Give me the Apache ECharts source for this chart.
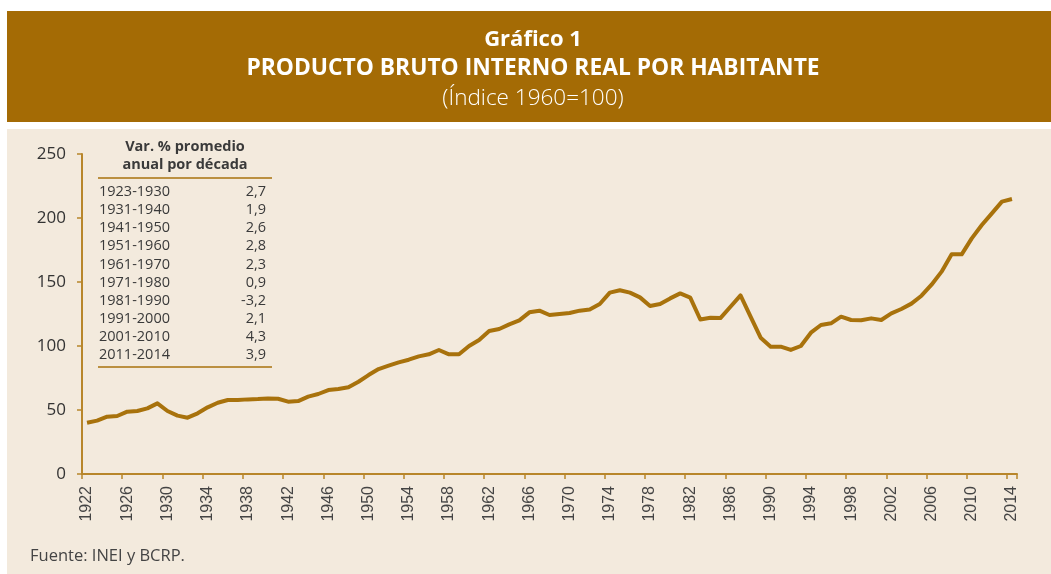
<!DOCTYPE html>
<html>
<head>
<meta charset="utf-8">
<script src="https://cdn.jsdelivr.net/npm/echarts@6/dist/echarts.min.js"></script>
<style>
  html, body { margin: 0; padding: 0; background: #fff; }
  #main { width: 1051px; height: 574px; }
</style>
</head>
<body>
<div id="main"></div>
<script>
// años 1922-2014
var years = [];
for (var y = 1922; y <= 2014; y++) {
    years.push(String(y));
}

// PBI real por habitante (índice 1960=100)
var pbi = [
    40.1, 41.7, 44.8, 45.3, 48.7, 49.2, 51.3, 55.2, 49.2, 45.6,   // 1922-1931
    44.0, 47.4, 52.1, 55.7, 57.8, 57.9, 58.3, 58.5, 59.0, 58.8,   // 1932-1941
    56.5, 57.0, 60.4, 62.5, 65.6, 66.4, 67.7, 72.1, 77.3, 82.0,   // 1942-1951
    84.6, 87.2, 89.3, 91.9, 93.5, 96.9, 93.5, 93.5, 100.0, 104.7, // 1952-1961
    111.7, 113.3, 116.9, 120.0, 126.3, 127.6, 124.2, 125.0, 125.8, 127.6, // 1962-1971
    128.6, 132.8, 141.7, 143.5, 141.7, 138.0, 131.3, 132.8, 137.2, 141.1, // 1972-1981
    137.8, 120.7, 122.0, 121.8, 130.7, 139.5, 122.9, 106.5, 99.5, 99.5,   // 1982-1991
    96.9, 100.0, 110.4, 116.4, 117.7, 122.9, 120.3, 120.1, 121.6, 120.3,  // 1992-2001
    125.5, 128.9, 133.1, 139.3, 147.9, 158.1, 171.6, 171.6, 184.1, 194.5, // 2002-2011
    203.6, 212.8, 214.8                                                   // 2012-2014
];

// tabla: var. % promedio anual por década
var periodos = ['1923-1930', '1931-1940', '1941-1950', '1951-1960', '1961-1970',
                '1971-1980', '1981-1990', '1991-2000', '2001-2010', '2011-2014'];
var variaciones = ['2,7', '1,9', '2,6', '2,8', '2,3', '0,9', '-3,2', '2,1', '4,3', '3,9'];

var cafe = '#A46B05';
var linea = '#A8720C';
var eje = '#B8862B';
var fondo = '#F3EADD';
var texto = '#3a3a3a';

var graficos = [
    { type: 'rect', z: -10, shape: { x: 7, y: 11, width: 1044, height: 111 }, style: { fill: cafe } },
    { type: 'rect', z: -10, shape: { x: 7, y: 129, width: 1044, height: 445 }, style: { fill: fondo } },
    { type: 'text', x: 533, y: 40, style: { text: 'Gráfico 1', fill: '#fff', font: 'bold 22px "Open Sans"', align: 'center', verticalAlign: 'middle' } },
    { type: 'text', x: 533, y: 69, style: { text: 'PRODUCTO BRUTO INTERNO REAL POR HABITANTE', fill: '#fff', font: 'bold 22.8px "Open Sans"', align: 'center', verticalAlign: 'middle' } },
    { type: 'text', x: 533, y: 99, style: { text: '(Índice 1960=100)', fill: '#fff', font: '300 22.5px "Open Sans"', align: 'center', verticalAlign: 'middle' } },
    { type: 'text', x: 185, y: 147, style: { text: 'Var. % promedio', fill: texto, font: 'bold 14.5px "Open Sans"', align: 'center', verticalAlign: 'middle' } },
    { type: 'text', x: 185, y: 165, style: { text: 'anual por década', fill: texto, font: 'bold 14.5px "Open Sans"', align: 'center', verticalAlign: 'middle' } },
    { type: 'line', shape: { x1: 98, y1: 178, x2: 272, y2: 178 }, style: { stroke: linea, lineWidth: 1.5 } },
    { type: 'line', shape: { x1: 98, y1: 367, x2: 272, y2: 367 }, style: { stroke: linea, lineWidth: 1.5 } },
    { type: 'text', x: 30, y: 556, style: { text: 'Fuente: INEI y BCRP.', fill: '#444', font: '16.5px "Open Sans"', verticalAlign: 'middle' } }
];
for (var i = 0; i < periodos.length; i++) {
    graficos.push({ type: 'text', x: 99, y: 192 + i * 18.1, style: { text: periodos[i], fill: texto, font: '14.5px "Open Sans"', verticalAlign: 'middle' } });
    graficos.push({ type: 'text', x: 266, y: 192 + i * 18.1, style: { text: variaciones[i], fill: texto, font: '14.5px "Open Sans"', align: 'right', verticalAlign: 'middle' } });
}

var chart = echarts.init(document.getElementById('main'));
var option = {
    backgroundColor: '#fff',
    animation: false,
    grid: { left: 82, right: 34, top: 154, bottom: 100, containLabel: false },
    graphic: graficos,
    xAxis: {
        type: 'category',
        data: years,
        boundaryGap: true,
        axisLine: { lineStyle: { color: eje, width: 2 } },
        axisTick: { show: true, interval: 3, length: 5, lineStyle: { color: eje, width: 1.5 } },
        axisLabel: { interval: 3, rotate: 90, margin: 12, color: '#444', fontSize: 16, fontFamily: 'Liberation Sans' },
        splitLine: { show: false }
    },
    yAxis: {
        type: 'value',
        min: 0,
        max: 250,
        interval: 50,
        axisLine: { show: true, lineStyle: { color: eje, width: 2 } },
        axisTick: { show: true, length: 5, lineStyle: { color: eje, width: 1.5 } },
        axisLabel: { margin: 16, color: '#333', fontSize: 17, fontFamily: 'Open Sans' },
        splitLine: { show: false }
    },
    series: [{
        type: 'line',
        data: pbi,
        symbol: 'none',
        lineStyle: { color: linea, width: 4, join: 'round' },
        itemStyle: { color: linea }
    }]
};
chart.setOption(option);
</script>
</body>
</html>
